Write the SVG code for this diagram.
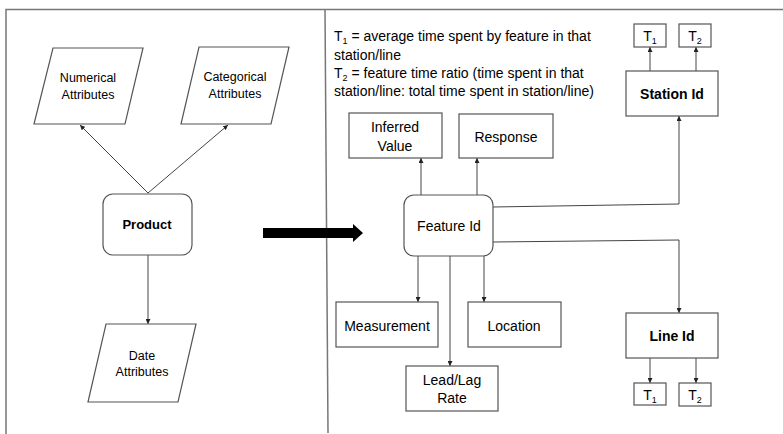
<svg xmlns="http://www.w3.org/2000/svg" width="783" height="434" viewBox="0 0 783 434">
<defs>
<marker id="ah" viewBox="0 0 10 10" refX="10" refY="5" markerWidth="5" markerHeight="5" orient="auto" markerUnits="userSpaceOnUse">
<path d="M0,0 L10,5 L0,10 Z" fill="#222"/>
</marker>
</defs>
<style>
.box{fill:#fff;stroke:#555;stroke-width:1.2}
.frame{fill:none;stroke:#777;stroke-width:1.5}
.con{fill:none;stroke:#444;stroke-width:1}
text{font-family:"Liberation Sans",Arial,sans-serif;fill:#000}
.sm{font-size:12.5px}
.md{font-size:14px}
.b{font-weight:bold}
.sub{font-size:9px}
</style>
<rect width="783" height="434" fill="#fff"/>
<g id="frame">
<path class="frame" d="M6,434 V9.5 H783"/>
<path class="frame" d="M325,9.5 L328,433"/>
</g>
<g id="notes">
<text class="md" font-size="14.5" x="334" y="41">T<tspan class="sub" dy="3">1</tspan><tspan dy="-3"> = average time spent by feature in that</tspan></text>
<text class="md" font-size="14.5" x="334" y="60">station/line</text>
<text class="md" font-size="14.5" x="334" y="78">T<tspan class="sub" dy="3">2</tspan><tspan dy="-3"> = feature time ratio (time spent in that</tspan></text>
<text class="md" font-size="14.5" x="334" y="96">station/line: total time spent in station/line)</text>
</g>
<g id="connectors">
<line class="con" x1="148" y1="193" x2="80" y2="125" marker-end="url(#ah)"/>
<line class="con" x1="148" y1="193" x2="228" y2="125" marker-end="url(#ah)"/>
<line class="con" x1="148" y1="255" x2="148" y2="324" marker-end="url(#ah)"/>
<path d="M263,228 H353 V224 L363,233 L353,242 V238 H263 Z" fill="#000"/>
<line class="con" x1="421" y1="195" x2="421" y2="158" marker-end="url(#ah)"/>
<line class="con" x1="477" y1="195" x2="477" y2="158" marker-end="url(#ah)"/>
<polyline class="con" points="493,207 679,204 679,116" marker-end="url(#ah)"/>
<polyline class="con" points="493,242 679,240 679,313" marker-end="url(#ah)"/>
<line class="con" x1="418" y1="256" x2="418" y2="302" marker-end="url(#ah)"/>
<line class="con" x1="450" y1="256" x2="450" y2="366" marker-end="url(#ah)"/>
<line class="con" x1="484" y1="256" x2="484" y2="302" marker-end="url(#ah)"/>
<line class="con" x1="650" y1="71" x2="650" y2="47" marker-end="url(#ah)"/>
<line class="con" x1="696" y1="71" x2="696" y2="47" marker-end="url(#ah)"/>
<line class="con" x1="650" y1="358" x2="650" y2="383" marker-end="url(#ah)"/>
<line class="con" x1="696" y1="358" x2="696" y2="383" marker-end="url(#ah)"/>
</g>
<g id="numerical">
<polygon class="box" points="53,48 143,48 125,124 34,124"/>
<text class="sm" x="88" y="82" text-anchor="middle">Numerical</text>
<text class="sm" x="88" y="99" text-anchor="middle">Attributes</text>
</g>
<g id="categorical">
<polygon class="box" points="199,47 289,47 271,124 181,124"/>
<text class="sm" x="235" y="81" text-anchor="middle">Categorical</text>
<text class="sm" x="235" y="98" text-anchor="middle">Attributes</text>
</g>
<g id="product">
<rect class="box" x="103" y="194" width="89" height="61" rx="10"/>
<text class="b" font-size="13" x="147" y="229" text-anchor="middle">Product</text>
</g>
<g id="date">
<polygon class="box" points="106,324 196,324 178,402 88,402"/>
<text class="sm" x="142" y="360" text-anchor="middle">Date</text>
<text class="sm" x="142" y="376" text-anchor="middle">Attributes</text>
</g>
<g id="inferred">
<rect class="box" x="349" y="113" width="93" height="45"/>
<text class="md" x="395" y="132" text-anchor="middle">Inferred</text>
<text class="md" x="395" y="151" text-anchor="middle">Value</text>
</g>
<g id="response">
<rect class="box" x="459" y="114" width="94" height="44"/>
<text class="md" x="506" y="142" text-anchor="middle">Response</text>
</g>
<g id="feature">
<rect class="box" x="404" y="195" width="89" height="61" rx="10"/>
<text class="md" x="449" y="231" text-anchor="middle">Feature Id</text>
</g>
<g id="measurement">
<rect class="box" x="336" y="302" width="102" height="45"/>
<text class="md" x="387" y="331" text-anchor="middle">Measurement</text>
</g>
<g id="location">
<rect class="box" x="468" y="302" width="93" height="45"/>
<text class="md" x="514" y="331" text-anchor="middle">Location</text>
</g>
<g id="leadlag">
<rect class="box" x="406" y="366" width="92" height="45"/>
<text class="md" x="452" y="385" text-anchor="middle">Lead/Lag</text>
<text class="md" x="452" y="403" text-anchor="middle">Rate</text>
</g>
<g id="station">
<rect class="box" x="626" y="71" width="92" height="45"/>
<text class="md b" x="672" y="99" text-anchor="middle">Station Id</text>
</g>
<g id="st1">
<rect class="box" x="634" y="24" width="32" height="23"/>
<text class="md" x="650" y="41" text-anchor="middle">T<tspan class="sub" dy="3">1</tspan></text>
</g>
<g id="st2">
<rect class="box" x="679" y="24" width="32" height="23"/>
<text class="md" x="695" y="41" text-anchor="middle">T<tspan class="sub" dy="3">2</tspan></text>
</g>
<g id="line">
<rect class="box" x="626" y="313" width="92" height="45"/>
<text class="md b" x="672" y="341" text-anchor="middle">Line Id</text>
</g>
<g id="lt1">
<rect class="box" x="634" y="383" width="32" height="22"/>
<text class="md" x="650" y="400" text-anchor="middle">T<tspan class="sub" dy="3">1</tspan></text>
</g>
<g id="lt2">
<rect class="box" x="679" y="383" width="32" height="23"/>
<text class="md" x="695" y="400" text-anchor="middle">T<tspan class="sub" dy="3">2</tspan></text>
</g>
</svg>
